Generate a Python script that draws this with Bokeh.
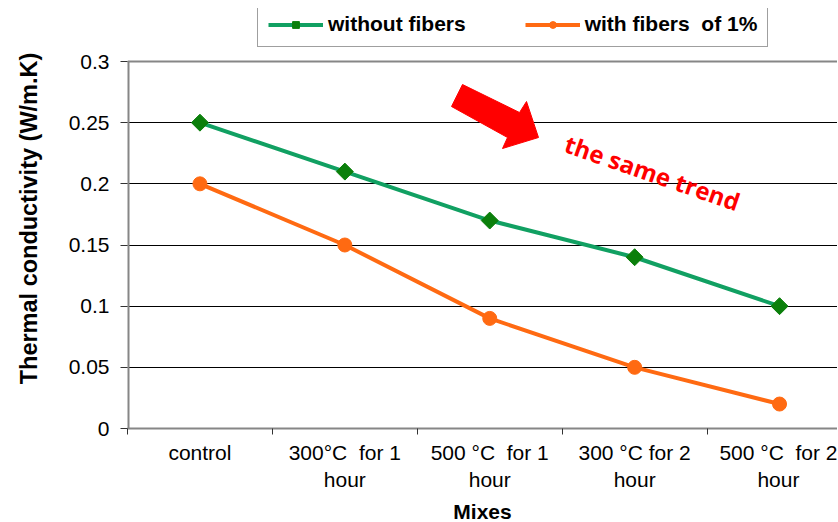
from bokeh.plotting import figure
from bokeh.models import (Range1d, FixedTicker, Legend, LegendItem, Label, Span,
                          ColumnDataSource)
from bokeh.embed import file_html
from bokeh.resources import INLINE
import math

# ---------------- data ----------------
mixes = ["control", "300°C\u00a0 for 1\nhour", "500 °C\u00a0 for 1\nhour",
         "300 °C for 2\nhour", "500 °C\u00a0 for 2\nhour"]
without_fibers = [0.25, 0.21, 0.17, 0.14, 0.10]
with_fibers = [0.20, 0.15, 0.09, 0.05, 0.02]
y_ticks = [0, 0.05, 0.1, 0.15, 0.2, 0.25, 0.3]
y_tick_labels = ["0", "0.05", "0.1", "0.15", "0.2", "0.25", "0.3"]
series_labels = ["without fibers", "with fibers\u00a0 of 1%"]
annotation_text = "the same trend"

# ---------------- styles ----------------
GREEN_LINE = "#11A062"
GREEN_MARK = "#0B7F0B"
ORANGE = "#FF6A12"
AXIS_GRAY = "#868686"
FONT = "Liberation Sans"

FRAME_W = 710
PX_PER_AXIS = 367          # pixels between 0 and 0.3
FRAME_H = 420              # frame extends above 0.3 to hold the legend
X_END = 4.9
Y_TOP = y_ticks[-1]
Y_END = Y_TOP * FRAME_H / PX_PER_AXIS

x_pos = [i + 0.5 for i in range(len(mixes))]
boundaries = list(range(len(mixes)))

p = figure(frame_width=FRAME_W, frame_height=FRAME_H,
           x_range=Range1d(0, X_END), y_range=Range1d(0, Y_END),
           output_backend="svg", toolbar_location=None,
           min_border_left=127, min_border_top=8, min_border_right=0,
           min_border_bottom=92, background_fill_color="white",
           border_fill_color="white")
p.outline_line_color = None

# x axis: labels at category centres, tick marks at category boundaries
xa = p.xaxis[0]
xa.ticker = FixedTicker(ticks=x_pos, minor_ticks=boundaries)
xa.major_label_overrides = {x: lab for x, lab in zip(x_pos, mixes)}
xa.major_tick_out = 0
xa.major_tick_in = 0
xa.minor_tick_out = 6
xa.minor_tick_in = 0
xa.minor_tick_line_color = "#333333"
xa.minor_tick_line_width = 1
xa.axis_line_color = AXIS_GRAY
xa.axis_line_width = 2
xa.major_label_text_font = FONT
xa.major_label_text_font_size = "21px"
xa.major_label_text_color = "black"
xa.major_label_standoff = 6
xa.axis_label = "Mixes"
xa.axis_label_text_font = FONT
xa.axis_label_text_font_style = "bold"
xa.axis_label_text_font_size = "21px"
xa.axis_label_text_color = "black"
xa.axis_label_standoff = 6

ya = p.yaxis[0]
ya.ticker = FixedTicker(ticks=y_ticks, minor_ticks=[])
ya.major_label_overrides = {t: l for t, l in zip(y_ticks, y_tick_labels)}
ya.major_tick_out = 7
ya.major_tick_in = 0
ya.major_tick_line_color = "#333333"
ya.axis_line_color = None
ya.major_label_text_font = FONT
ya.major_label_text_font_size = "21px"
ya.major_label_text_color = "black"
ya.major_label_standoff = 11
ya.axis_label = "Thermal conductivity (W/m.K)"
ya.axis_label_text_font = FONT
ya.axis_label_text_font_style = "bold"
ya.axis_label_text_font_size = "23.5px"
ya.axis_label_text_color = "black"
ya.axis_label_standoff = 24

p.xgrid.grid_line_color = None
p.ygrid.grid_line_color = "black"
p.ygrid.grid_line_width = 1

# vertical axis line only from 0 to 0.3, and top border at 0.3
p.segment(x0=[0], y0=[y_ticks[0]], x1=[0], y1=[Y_TOP], line_color=AXIS_GRAY,
          line_width=4)
p.add_layout(Span(location=Y_TOP, dimension="width", line_color=AXIS_GRAY,
                  line_width=2))

src = ColumnDataSource(dict(x=x_pos, mix=mixes, wo=without_fibers, w=with_fibers))

g_line = p.line("x", "wo", source=src, line_color=GREEN_LINE, line_width=4)
g_pts = p.scatter("x", "wo", source=src, marker="square", angle=math.pi / 4,
                  size=12, fill_color=GREEN_MARK, line_color=GREEN_MARK)
o_line = p.line("x", "w", source=src, line_color=ORANGE, line_width=4)
o_pts = p.scatter("x", "w", source=src, marker="circle", size=14,
                  fill_color=ORANGE, line_color=ORANGE)

# ---- helpers to place decorations by pixel ----
def dx(px):
    return (px - 128) * X_END / FRAME_W

def dy(py):
    return (429 - py) * Y_TOP / PX_PER_AXIS

# red block arrow (decoration)
arrow_px = [(463, 85), (520, 113), (527, 102), (539, 138), (503, 149),
            (508, 138), (452, 107)]
p.patch([dx(a) for a, b in arrow_px], [dy(b) for a, b in arrow_px],
        fill_color="#FF0000", line_color="#FF0000", line_width=1)

p.add_layout(Label(x=dx(653), y=dy(173), text=annotation_text,
                   angle=-19 * math.pi / 180, text_align="center",
                   text_baseline="middle", text_font="Open Sans",
                   text_font_style="bold", text_font_size="24px",
                   text_color="#FF0000"))

legend = Legend(items=[LegendItem(label=series_labels[0], renderers=[g_line, g_pts]),
                       LegendItem(label=series_labels[1], renderers=[o_line, o_pts])],
                orientation="horizontal", location=(130, 429 - 48),
                glyph_width=55, glyph_height=17, label_height=17,
                label_standoff=5, spacing=59, padding=10, margin=0,
                label_text_font=FONT, label_text_font_style="bold",
                label_text_font_size="21px", label_text_color="black",
                border_line_color="#404040", border_line_width=1.3,
                background_fill_color="white", background_fill_alpha=1)
p.add_layout(legend)

open("out.html", "w").write(file_html(p, INLINE))
